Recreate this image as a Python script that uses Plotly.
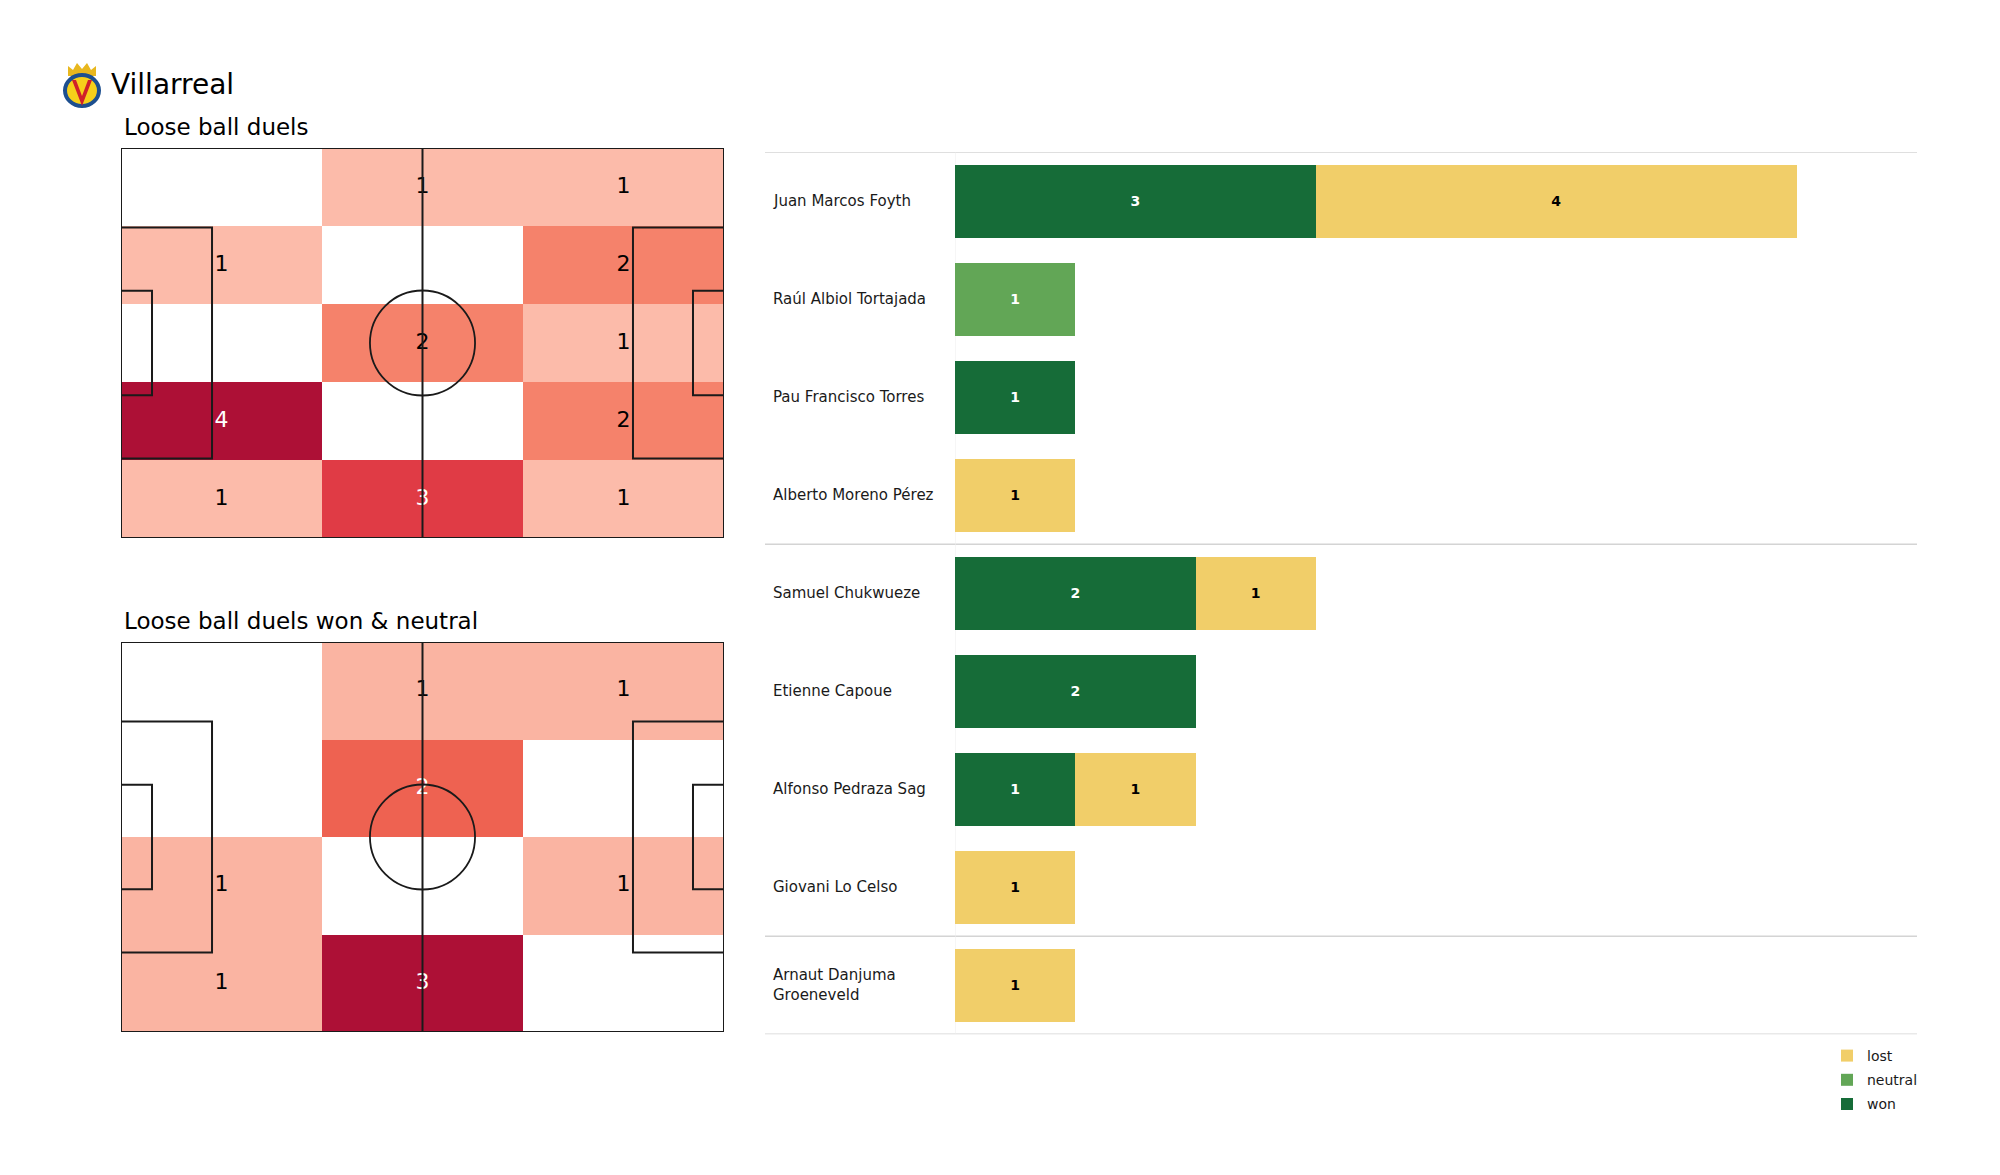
import textwrap
import plotly.graph_objects as go

# ---------------- data ----------------
team = "Villarreal"
title_all = "Loose ball duels"
title_won = "Loose ball duels won & neutral"

# zone counts, rows listed from the top touchline down, columns left -> right
duels_grid = [
    [0, 1, 1],
    [1, 0, 2],
    [0, 2, 1],
    [4, 0, 2],
    [1, 3, 1],
]
won_neutral_grid = [
    [0, 1, 1],
    [0, 2, 0],
    [1, 0, 1],
    [1, 3, 0],
]

players = [
    "Juan Marcos Foyth", "Raúl Albiol Tortajada", "Pau Francisco Torres",
    "Alberto Moreno Pérez", "Samuel Chukwueze", "Etienne Capoue",
    "Alfonso Pedraza Sag", "Giovani Lo Celso", "Arnaut Danjuma Groeneveld",
]
position_group = ["DF", "DF", "DF", "DF", "MF", "MF", "MF", "MF", "FW"]
won = [3, 0, 1, 0, 2, 2, 1, 0, 0]
neutral = [0, 1, 0, 0, 0, 0, 0, 0, 0]
lost = [4, 0, 0, 1, 1, 0, 1, 1, 1]

# ---------------- style ----------------
W, H = 2000, 1175
FONT = "DejaVu Sans"
PITCH_L, PITCH_W = 105.0, 68.0
C_WON, C_NEU, C_LOST = "#166C38", "#62A656", "#F1CE69"
HEAT_SCALE = [
    [0.0, "#ffffff"], [0.25, "#FCBBAA"], [0.34, "#FAB3A1"], [0.5, "#F5826B"],
    [0.67, "#EE6150"], [0.75, "#E03B45"], [1.0, "#AD1036"],
]


def px(x):
    return x / W


def py(y):
    return 1 - y / H


fig = go.Figure()

# ---------------- pitches ----------------
pitches = [
    (duels_grid, "x", "y"),
    (won_neutral_grid, "x2", "y2"),
]
shapes = []
annotations = []

for grid, xr, yr in pitches:
    nrows, ncols = len(grid), len(grid[0])
    cw, rh = PITCH_L / ncols, PITCH_W / nrows
    xc = [cw * (j + 0.5) for j in range(ncols)]
    yc = [rh * (i + 0.5) for i in range(nrows)]
    zmax = max(max(r) for r in grid)
    z = [[v if v else None for v in row] for row in grid]
    fig.add_trace(go.Heatmap(
        z=z, x=xc, y=yc, xaxis=xr, yaxis=yr, zmin=0, zmax=zmax,
        colorscale=HEAT_SCALE, showscale=False, hoverinfo="skip",
    ))
    tx, ty, tt, tc = [], [], [], []
    for i, row in enumerate(grid):
        for j, v in enumerate(row):
            if v:
                tx.append(xc[j]); ty.append(yc[i]); tt.append(str(v))
                tc.append("white" if v / zmax > 0.6 else "black")
    fig.add_trace(go.Scatter(
        x=tx, y=ty, text=tt, mode="text", xaxis=xr, yaxis=yr,
        textfont=dict(family=FONT, size=22, color=tc),
        showlegend=False, hoverinfo="skip",
    ))
    # pitch markings (metres)
    line = dict(color="#1a1a1a", width=2)
    L, Wd = PITCH_L, PITCH_W
    pa_d, pa_w, ga_d, ga_w, cr = 15.85, 40.3, 5.4, 18.2, 9.15
    rects = [
        (0, 0, L, Wd),
        (0, (Wd - pa_w) / 2, pa_d, (Wd + pa_w) / 2),
        (L - pa_d, (Wd - pa_w) / 2, L, (Wd + pa_w) / 2),
        (0, (Wd - ga_w) / 2, ga_d, (Wd + ga_w) / 2),
        (L - ga_d, (Wd - ga_w) / 2, L, (Wd + ga_w) / 2),
    ]
    for x0, y0, x1, y1 in rects:
        shapes.append(dict(type="rect", xref=xr, yref=yr, x0=x0, y0=y0, x1=x1, y1=y1,
                           line=line, layer="above"))
    shapes.append(dict(type="line", xref=xr, yref=yr, x0=L / 2, x1=L / 2, y0=0, y1=Wd,
                       line=line, layer="above"))
    shapes.append(dict(type="circle", xref=xr, yref=yr, x0=L / 2 - cr, x1=L / 2 + cr,
                       y0=Wd / 2 - cr, y1=Wd / 2 + cr, line=dict(color="#1a1a1a", width=1.8),
                       layer="above"))

# ---------------- bars ----------------
ypos = list(range(len(players)))
for name, vals, col, tcol, rank in [("won", won, C_WON, "white", 3),
                                    ("neutral", neutral, C_NEU, "white", 2),
                                    ("lost", lost, C_LOST, "black", 1)]:
    fig.add_trace(go.Bar(
        name=name, legendgroup=name, legendrank=rank, orientation="h", y=ypos,
        x=[v if v else None for v in vals],
        xaxis="x3", yaxis="y3", marker=dict(color=col, line=dict(width=0)),
        width=0.74, text=[str(v) if v else "" for v in vals],
        textposition="inside", insidetextanchor="middle", textangle=0,
        textfont=dict(family=FONT, size=14, color=tcol, weight="bold"),
        hoverinfo="skip",
    ))

# player labels
for i, name in enumerate(players):
    annotations.append(dict(
        text="<br>".join(textwrap.wrap(name, 22)), xref="paper", yref="y3",
        x=px(771), y=i, xanchor="left", yanchor="middle", align="left",
        showarrow=False, font=dict(family=FONT, size=15, color="#1a1a1a"),
    ))

# group separator lines
seps = [-0.5]
for i in range(1, len(position_group)):
    if position_group[i] != position_group[i - 1]:
        seps.append(i - 0.5)
seps.append(len(players) - 0.5)
for s in seps:
    shapes.append(dict(type="line", xref="paper", yref="y3", x0=px(765), x1=px(1917),
                       y0=s, y1=s, line=dict(color="#d4d4d4", width=1.5), layer="below"))
shapes.append(dict(type="line", xref="x3", yref="y3", x0=0, x1=0, y0=-0.5,
                   y1=len(players) - 0.5, line=dict(color="#eeeeee", width=1), layer="below"))

# ---------------- titles & crest ----------------
annotations += [
    dict(text=team, xref="paper", yref="paper", x=px(109), y=py(84), xanchor="left",
         yanchor="middle", showarrow=False, font=dict(family=FONT, size=28, color="black")),
    dict(text=title_all, xref="paper", yref="paper", x=px(122), y=py(127), xanchor="left",
         yanchor="middle", showarrow=False, font=dict(family=FONT, size=23, color="black")),
    dict(text=title_won, xref="paper", yref="paper", x=px(122), y=py(621), xanchor="left",
         yanchor="middle", showarrow=False, font=dict(family=FONT, size=23, color="black")),
]


def ppath(pts):
    return "M " + " L ".join(f"{px(a):.5f},{py(b):.5f}" for a, b in pts) + " Z"


shapes += [
    dict(type="path", xref="paper", yref="paper", line=dict(width=0), fillcolor="#E8B71E",
         path=ppath([(68, 76), (68, 66), (73, 70), (77, 63), (82, 69), (87, 63), (91, 70),
                     (96, 66), (96, 76)])),
    dict(type="circle", xref="paper", yref="paper", x0=px(63), x1=px(101), y0=py(108),
         y1=py(73), fillcolor="#1D4F8F", line=dict(width=0)),
    dict(type="circle", xref="paper", yref="paper", x0=px(67), x1=px(97), y0=py(104),
         y1=py(77), fillcolor="#F6CF1A", line=dict(width=0)),
    dict(type="path", xref="paper", yref="paper", line=dict(width=0), fillcolor="#D0202A",
         path=ppath([(72, 80), (82, 106), (92, 80), (88, 80), (82, 96), (76, 80)])),
]

# ---------------- layout ----------------
hidden = dict(showgrid=False, zeroline=False, showticklabels=False, ticks="",
              showline=False, fixedrange=True)
fig.update_layout(
    width=W, height=H, margin=dict(l=0, r=0, t=0, b=0),
    paper_bgcolor="white", plot_bgcolor="white",
    font=dict(family=FONT),
    xaxis=dict(hidden, domain=[px(121), px(724)], range=[0, PITCH_L]),
    yaxis=dict(hidden, domain=[py(538), py(148)], range=[PITCH_W, 0]),
    xaxis2=dict(hidden, domain=[px(121), px(724)], range=[0, PITCH_L]),
    yaxis2=dict(hidden, domain=[py(1032), py(642)], range=[PITCH_W, 0]),
    xaxis3=dict(hidden, domain=[px(955), px(1917)], range=[0, 8]),
    yaxis3=dict(hidden, domain=[py(1034.3), py(152.3)],
                range=[len(players) - 0.5, -0.5]),
    barmode="stack",
    showlegend=True,
    legend=dict(x=px(1827), y=py(1040), xanchor="left", yanchor="top",
                traceorder="grouped", tracegroupgap=3,
                font=dict(family=FONT, size=14, color="#1a1a1a"),
                bgcolor="rgba(0,0,0,0)"),
    shapes=shapes, annotations=annotations,
)

fig.write_html("out.html", config={"displayModeBar": False},
               post_script="document.body.style.margin='0';")
